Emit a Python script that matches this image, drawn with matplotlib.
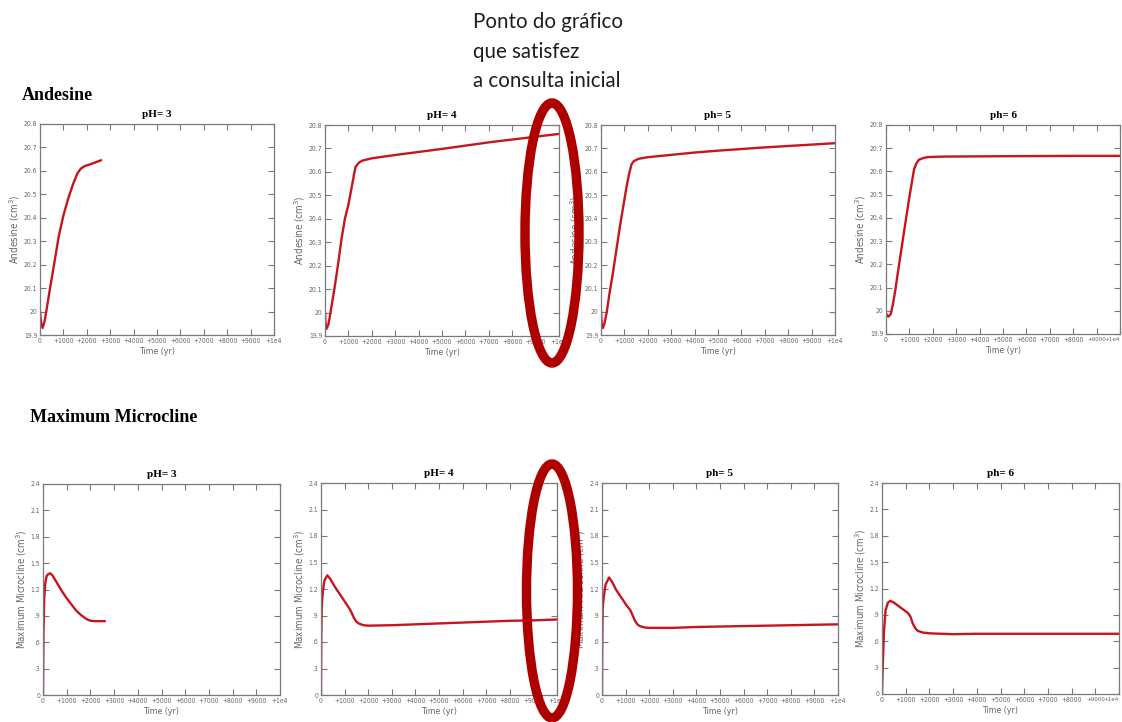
import matplotlib
matplotlib.use("Agg")
import matplotlib.pyplot as plt
from matplotlib.patches import Ellipse
from matplotlib.transforms import ScaledTranslation

# ---- data -------------------------------------------------------------
panel_titles = ["pH= 3", "pH= 4", "ph= 5", "ph= 6"]

x_ticks = [0, 1000, 2000, 3000, 4000, 5000, 6000, 7000, 8000, 9000, 10000]
x_ticklabels = ["0", "+1000", "+2000", "+3000", "+4000", "+5000",
                "+6000", "+7000", "+8000", "+9000", "+1e4"]

and_yticks = [19.9, 20.0, 20.1, 20.2, 20.3, 20.4, 20.5, 20.6, 20.7, 20.8]
and_yticklabels = ["19.9", "20", "20.1", "20.2", "20.3", "20.4", "20.5",
                   "20.6", "20.7", "20.8"]
mic_yticks = [0, 0.3, 0.6, 0.9, 1.2, 1.5, 1.8, 2.1, 2.4]
mic_yticklabels = ["0", ".3", ".6", ".9", "1.2", "1.5", "1.8", "2.1", "2.4"]

# Andesine volume (cm3) vs time (yr)
and_t_ph3 = [0, 50, 110, 200, 300, 430, 600, 800, 1000, 1200, 1400, 1600,
             1750, 1900, 2200, 2600]
and_v_ph3 = [20.00, 19.95, 19.93, 19.96, 20.02, 20.10, 20.20, 20.32, 20.41,
             20.48, 20.54, 20.59, 20.61, 20.62, 20.63, 20.645]

and_t_ph4 = [0, 20, 60, 150, 250, 400, 550, 700, 850, 1000, 1150, 1300, 1450,
             1600, 2000, 3000, 4000, 5000, 6000, 7000, 8000, 9000, 10000]
and_v_ph4 = [20.00, 19.96, 19.93, 19.95, 20.01, 20.10, 20.20, 20.31, 20.40,
             20.46, 20.54, 20.62, 20.64, 20.648, 20.658, 20.672, 20.685,
             20.698, 20.712, 20.726, 20.738, 20.75, 20.762]

and_t_ph5 = [0, 30, 80, 150, 250, 350, 500, 650, 800, 950, 1100, 1200, 1300,
             1400, 1600, 2000, 3000, 4000, 5000, 6000, 7000, 8000, 9000, 10000]
and_v_ph5 = [20.00, 19.95, 19.93, 19.95, 20.00, 20.07, 20.16, 20.26, 20.36,
             20.45, 20.54, 20.59, 20.63, 20.645, 20.655, 20.662, 20.672,
             20.682, 20.69, 20.697, 20.704, 20.71, 20.716, 20.722]

and_t_ph6 = [0, 50, 100, 200, 300, 400, 500, 650, 800, 1000, 1100, 1200, 1300,
             1400, 1600, 1800, 2500, 4000, 6000, 8000, 10000]
and_v_ph6 = [19.99, 19.98, 19.975, 19.985, 20.03, 20.09, 20.16, 20.26, 20.36,
             20.49, 20.55, 20.61, 20.635, 20.65, 20.658, 20.662, 20.664,
             20.665, 20.666, 20.667, 20.667]

# Maximum Microcline volume (cm3) vs time (yr)
mic_t_ph3 = [0, 20, 50, 100, 150, 200, 300, 400, 600, 800, 1000, 1200, 1400,
             1600, 1800, 1900, 2000, 2200, 2600]
mic_v_ph3 = [0.0, 0.7, 1.1, 1.28, 1.35, 1.37, 1.385, 1.36, 1.27, 1.18, 1.10,
             1.03, 0.96, 0.91, 0.87, 0.855, 0.845, 0.84, 0.84]

mic_t_ph4 = [0, 10, 30, 80, 150, 270, 400, 600, 800, 1000, 1200, 1300, 1400,
             1500, 1600, 1800, 2000, 3000, 4000, 5000, 6000, 7000, 8000, 9000,
             10000]
mic_v_ph4 = [0.0, 0.6, 1.0, 1.18, 1.30, 1.355, 1.31, 1.22, 1.14, 1.06, 0.98,
             0.93, 0.87, 0.83, 0.81, 0.79, 0.785, 0.79, 0.80, 0.81, 0.82, 0.83,
             0.84, 0.845, 0.855]

mic_t_ph5 = [0, 10, 30, 80, 150, 300, 450, 600, 800, 1000, 1200, 1300, 1400,
             1500, 1600, 1800, 2000, 3000, 4000, 5000, 6000, 7000, 8000, 9000,
             10000]
mic_v_ph5 = [0.0, 0.6, 1.0, 1.12, 1.25, 1.33, 1.27, 1.19, 1.11, 1.03, 0.96,
             0.90, 0.84, 0.80, 0.78, 0.765, 0.76, 0.76, 0.77, 0.775, 0.78,
             0.785, 0.79, 0.795, 0.80]

mic_t_ph6 = [0, 30, 80, 150, 250, 350, 500, 700, 900, 1100, 1200, 1300, 1400,
             1500, 1700, 2000, 2500, 3000, 4000, 6000, 8000, 10000]
mic_v_ph6 = [0.0, 0.3, 0.7, 0.95, 1.04, 1.06, 1.04, 1.00, 0.96, 0.92, 0.88,
             0.80, 0.75, 0.72, 0.70, 0.69, 0.685, 0.68, 0.685, 0.685, 0.685,
             0.685]

andesine_series = [(and_t_ph3, and_v_ph3), (and_t_ph4, and_v_ph4),
                   (and_t_ph5, and_v_ph5), (and_t_ph6, and_v_ph6)]
microcline_series = [(mic_t_ph3, mic_v_ph3), (mic_t_ph4, mic_v_ph4),
                     (mic_t_ph5, mic_v_ph5), (mic_t_ph6, mic_v_ph6)]

# ---- layout (pixel boxes: left, right, top, bottom) ---------------------
W, H = 1122, 722
and_boxes = [(40, 274, 124, 335), (325, 559, 125, 336),
             (601, 835, 125, 335), (886, 1120, 125, 334)]
mic_boxes = [(43, 280, 484, 695), (321, 557, 483, 695),
             (602, 838, 483, 695), (882, 1119, 483, 694)]

LINE_RED = "#c8141c"
AXIS_GREY = "#7a7a7a"
TEXT_GREY = "#666666"
TICK_FONT = dict(family=["DejaVu Sans"], fontstretch="condensed")

fig = plt.figure(figsize=(W / 100, H / 100), dpi=100)
fig.patch.set_facecolor("white")


def make_axes(box):
    l, r, t, b = box
    return fig.add_axes([l / W, 1 - b / H, (r - l) / W, (b - t) / H])


def style_axes(ax, yticks, yticklabels, ylim, ylabel, title, last_col):
    ax.set_xlim(0, 10000)
    ax.set_ylim(*ylim)
    ax.set_xticks(x_ticks)
    labels = ax.set_xticklabels(x_ticklabels, fontsize=4.9, color=TEXT_GREY,
                                **TICK_FONT)
    if last_col:
        # right-most panels sit at the canvas edge: tuck the end labels in
        for lab in labels[-2:]:
            lab.set_fontsize(4.5)
        labels[-1].set_horizontalalignment("right")
        labels[-1].set_transform(labels[-1].get_transform() +
                                 ScaledTranslation(2 / 100, 0,
                                                   fig.dpi_scale_trans))
    ax.set_yticks(yticks)
    ax.set_yticklabels(yticklabels, fontsize=4.9, color=TEXT_GREY,
                       **TICK_FONT)
    ax.tick_params(direction="in", length=4, width=0.8, color=AXIS_GREY,
                   top=True, right=True, pad=2)
    for s in ax.spines.values():
        s.set_color(AXIS_GREY)
        s.set_linewidth(0.9)
    ax.set_xlabel("Time (yr)", fontsize=6.4, color=TEXT_GREY, labelpad=2,
                  **TICK_FONT)
    ax.set_ylabel(ylabel, fontsize=7.0, color=TEXT_GREY, labelpad=1,
                  **TICK_FONT)
    ax.set_title(title, family="Liberation Serif", fontweight="bold",
                 fontsize=8, pad=5)


for i, (box, (t, v), title) in enumerate(zip(and_boxes, andesine_series,
                                             panel_titles)):
    ax = make_axes(box)
    ax.plot(t, v, color=LINE_RED, lw=1.7, solid_joinstyle="round")
    style_axes(ax, and_yticks, and_yticklabels, (19.9, 20.8),
               "Andesine (cm$^3$)", title, i == 3)

for i, (box, (t, v), title) in enumerate(zip(mic_boxes, microcline_series,
                                             panel_titles)):
    ax = make_axes(box)
    ax.plot(t, v, color=LINE_RED, lw=1.7, solid_joinstyle="round")
    style_axes(ax, mic_yticks, mic_yticklabels, (0, 2.4),
               "Maximum Microcline (cm$^3$)", title, i == 3)

# ---- section headings and note -------------------------------------------
fig.text(22 / W, 1 - 95 / H, "Andesine", family="Liberation Serif",
         fontweight="bold", fontsize=13, va="center", ha="left")
fig.text(30 / W, 1 - 417 / H, "Maximum Microcline", family="Liberation Serif",
         fontweight="bold", fontsize=13, va="center", ha="left")

note_lines = ["Ponto do gráfico", "que satisfez", "a consulta inicial"]
for i, line in enumerate(note_lines):
    fig.text(473 / W, 1 - (22 + 29.5 * i) / H, line, family="Lato",
             fontsize=14.8, color="#1e1e1e", va="center", ha="left")

# ---- highlight ellipses over the pH 4 end point ---------------------------
overlay = fig.add_axes([0, 0, 1, 1], zorder=10)
overlay.set_xlim(0, W)
overlay.set_ylim(H, 0)
overlay.axis("off")
overlay.patch.set_alpha(0)
for cx, cy, ew, eh in [(552, 233, 54, 260), (552, 591, 51, 254)]:
    overlay.add_patch(Ellipse((cx, cy), ew, eh, fill=False,
                              edgecolor="#af0000", lw=6.8))

fig.savefig("out.png", dpi=100, facecolor="white")
